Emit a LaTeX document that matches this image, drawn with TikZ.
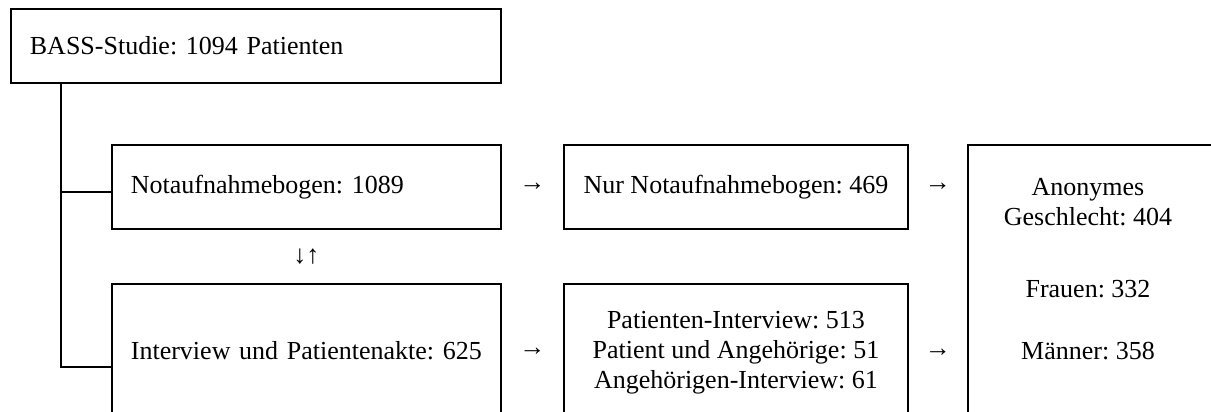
\documentclass[tikz,border=0pt]{standalone}
\usepackage{fontspec}
\setmainfont{Liberation Serif}
\frenchspacing
\usetikzlibrary{positioning,calc}

\begin{document}
\begin{tikzpicture}[
  x=1pt, y=-1pt,
  every node/.style={font=\fontsize{26}{30}\selectfont},
  box/.style={draw, line width=1.8pt, inner xsep=19pt, inner ysep=0pt},
  leftbox/.style={box, align=left, anchor=north west},
  midbox/.style={box, align=center, anchor=north west},
  arrowtext/.style={inner sep=0pt},
  trunk/.style={line width=1.8pt}
]
\useasboundingbox (0,0) rectangle (1211,412);
\clip (0,0) rectangle (1211,412);

\node[leftbox, text width=452pt, minimum height=74pt] (bass) at (10,8) {BASS-Studie: 1094 Patienten};

\node[leftbox, text width=351pt, minimum height=84pt] (boxA) at (111,144) {Notaufnahmebogen: 1089};
\node[leftbox, text width=351pt, minimum height=134pt] (boxB) at (111,283) {Interview und Patientenakte: 625};

\node[midbox, minimum width=344pt, minimum height=84pt] (boxC) at (563,144) {Nur Notaufnahmebogen: 469};
\node[midbox, minimum width=344pt, minimum height=138pt] (boxD) at (563,283)
  {Patienten-Interview: 513\\Patient und Angehörige: 51\\Angehörigen-Interview: 61};

\node[box, anchor=north west, minimum width=300pt, minimum height=300pt] (boxE) at (967,144) {};
\node[align=center, anchor=north, inner sep=0pt] (stats) at (1088,178.4)
  {Anonymes\\Geschlecht: 404\\[42pt]Frauen: 332\\[32pt]Männer: 358};

\coordinate (joinA) at ([yshift=-5pt]boxA.west);
\coordinate (joinB) at ([yshift=-16pt]boxB.west);
\draw[trunk] ([xshift=51pt]bass.south west) coordinate (fork) |- (joinB);
\draw[trunk] (fork |- joinA) -- (joinA);

\node[arrowtext] (arrAC) at ($(boxA.east)!0.5!(boxC.west)$) {→};
\node[arrowtext] (arrCE) at ($(boxC.east)!0.5!(boxE.west |- boxC.east)$) {→};
\node[arrowtext] (arrBD) at ($(boxB.east)!0.5!(boxD.west)$) {→};
\node[arrowtext] (arrDE) at ($(boxD.east)!0.5!(boxE.west |- boxD.east)$) {→};
\node[arrowtext] (swap) at ($(boxA.south)!0.5!(boxB.north)$) {↓↑};
\end{tikzpicture}
\end{document}
